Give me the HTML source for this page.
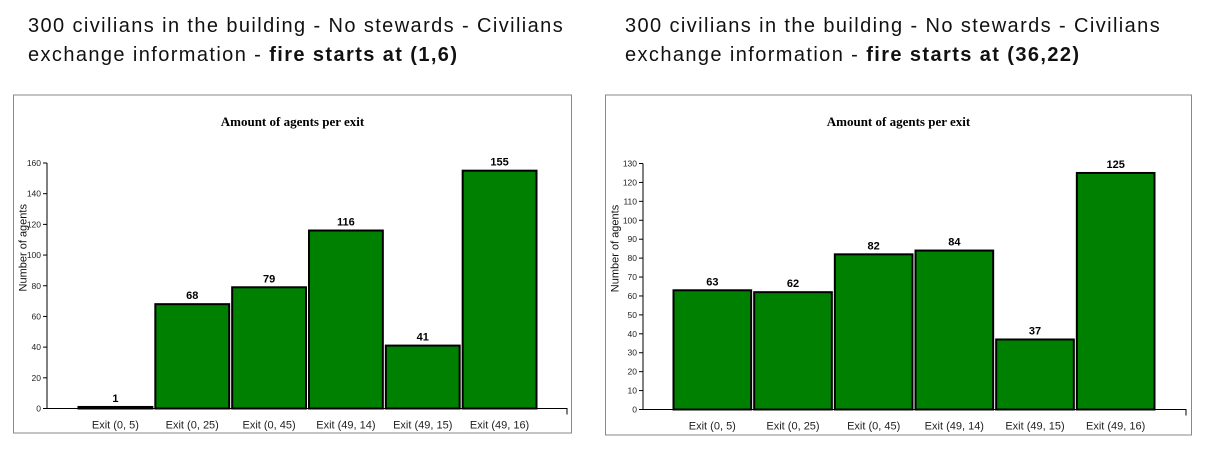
<!DOCTYPE html>
<html><head><meta charset="utf-8"><style>
body{margin:0;width:1211px;height:452px;background:#fff;overflow:hidden;position:relative;font-family:"Liberation Sans",sans-serif}
.h{position:absolute;font-size:20px;line-height:29px;color:#111;letter-spacing:1.4px;white-space:nowrap}
svg{position:absolute;left:0;top:0}
</style></head><body>
<div class="h" style="left:28px;top:12px">300 civilians in the building - No stewards - Civilians<br>exchange information - <b>fire starts at (1,6)</b></div>
<div class="h" style="left:625px;top:12px">300 civilians in the building - No stewards - Civilians<br>exchange information - <b>fire starts at (36,22)</b></div>
<svg id="s" width="1211" height="452"></svg>
<script>
const categories=["Exit (0, 5)","Exit (0, 25)","Exit (0, 45)","Exit (49, 14)","Exit (49, 15)","Exit (49, 16)"];
const valuesLeft=[1,68,79,116,41,155];
const valuesRight=[63,62,82,84,37,125];
const ticksLeft=[0,20,40,60,80,100,120,140,160];
const ticksRight=[0,10,20,30,40,50,60,70,80,90,100,110,120,130];
const NS="http://www.w3.org/2000/svg";
const svg=document.getElementById('s');
function mk(t,a,p){const e=document.createElementNS(NS,t);for(const k in a)e.setAttribute(k,a[k]);(p||svg).appendChild(e);return e;}
function chart(name,cfg,vals,ticks){
  const g=mk('g',{});
  
  
  const box=mk('rect',{x:cfg.bx,y:95,width:cfg.bw,height:cfg.bh,fill:'#fff',stroke:'#888','stroke-width':1},g);
  
  
  const t=mk('text',{x:cfg.bx+cfg.bw/2,y:126,'text-anchor':'middle','font-family':'Liberation Serif, serif','font-weight':'bold','font-size':13},g);
  t.textContent='Amount of agents per exit';
  
  
  const max=ticks[ticks.length-1];
  const y=v=>cfg.y0-(v/max)*(cfg.y0-cfg.yTop);
  const bandW=(cfg.x1-cfg.x0)/categories.length;
  const xb=i=>cfg.x0+i*bandW;
  const ya=mk('line',{x1:cfg.ax,y1:cfg.yTop,x2:cfg.ax,y2:cfg.y0,stroke:'#000'},g);
  
  
  const xa=mk('path',{d:`M${cfg.ax},${cfg.y0}H${cfg.axEnd}v6`,stroke:'#000',fill:'none'},g);
  
  
  ticks.forEach(v=>{
    mk('line',{x1:cfg.ax-4,x2:cfg.ax,y1:y(v),y2:y(v),stroke:'#000'},g);
    const tl=mk('text',{x:cfg.ax-6,y:y(v)+3,'text-anchor':'end','font-size':8.5,fill:'#222'},g);
    tl.textContent=v;
    
    
  });
  const yt=mk('text',{transform:`translate(${cfg.bx+13},${(cfg.yTop+cfg.y0)/2-38}) rotate(-90)`,'text-anchor':'middle','font-size':11,fill:'#111'},g);
  yt.textContent='Number of agents';
  
  
  vals.forEach((v,i)=>{
    const b=mk('rect',{x:xb(i)+1.5,y:y(v),width:bandW-3,height:cfg.y0-y(v),fill:'#008000',stroke:'#000','stroke-width':2},g);
    
    
    const l=mk('text',{x:xb(i)+bandW/2,y:y(v)-5,'text-anchor':'middle','font-size':11,'font-weight':'bold'},g);
    l.textContent=v;
    
    
    const c=mk('text',{x:xb(i)+bandW/2,y:cfg.y0+20,'text-anchor':'middle','font-size':11,fill:'#222'},g);
    c.textContent=categories[i];
    
    
  });
}
chart('left-chart',{bx:13.5,bw:558,bh:338,ax:47,axEnd:567,y0:408.5,yTop:163,x0:77,x1:538},valuesLeft,ticksLeft);
chart('right-chart',{bx:605.5,bw:586,bh:340,ax:643,axEnd:1186,y0:409.5,yTop:163.5,x0:672,x1:1156},valuesRight,ticksRight);
</script>
</body></html>
